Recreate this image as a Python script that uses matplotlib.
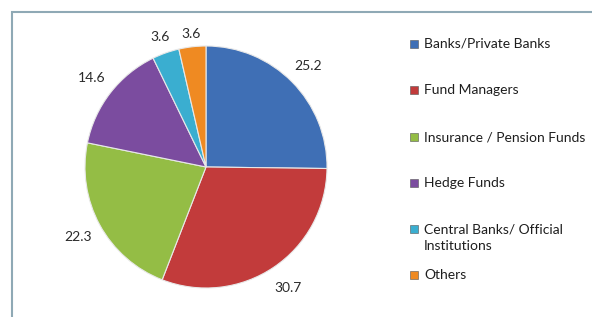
import matplotlib.pyplot as plt
import numpy as np
from matplotlib.patches import Rectangle

categories = ["Banks/Private Banks", "Fund Managers", "Insurance / Pension Funds",
              "Hedge Funds", "Central Banks/ Official\nInstitutions", "Others"]
shares = [25.2, 30.7, 22.3, 14.6, 3.6, 3.6]
colors = ["#3f6fb5", "#c23b3b", "#94bd45", "#7b4c9f", "#3aaed0", "#ef8a22"]
label_dist = [1.19, 1.21, 1.2, 1.2, 1.14, 1.11]
legend_y = [44, 90, 137, 183, 238, 275]

plt.rcParams['font.family'] = ['Lato', 'DejaVu Sans']

W, H = 592, 317
fig = plt.figure(figsize=(W / 100, H / 100), dpi=100)

# frame around the chart area (runs off right and bottom)
fig.patches.append(Rectangle((12 / W, -0.1), 1.2, (H - 12) / H + 0.1,
                             transform=fig.transFigure, fill=False,
                             edgecolor="#8fa9b5", linewidth=1.5))

cx, cy, r = 206, 167, 121
ax = fig.add_axes([(cx - r) / W, (H - cy - r) / H, 2 * r / W, 2 * r / H])
wedges, _ = ax.pie(shares, colors=colors, startangle=90, counterclock=False,
                   wedgeprops=dict(edgecolor="#e8e8e8", linewidth=0.8))
ax.set_xlim(-1, 1)
ax.set_ylim(-1, 1)
ax.set_aspect("equal")
ax.axis("off")

for w, v, d in zip(wedges, shares, label_dist):
    ang = np.deg2rad((w.theta1 + w.theta2) / 2)
    ax.text(d * np.cos(ang), d * np.sin(ang), f"{v}", ha="center", va="center",
            fontsize=10, color="#2a2a2a", clip_on=False)

for name, c, y in zip(categories, colors, legend_y):
    top_line_y = y if "\n" not in name else y - 9.5
    fig.patches.append(Rectangle((410 / W, (H - top_line_y - 4) / H), 8 / W, 8 / H,
                                 transform=fig.transFigure, facecolor=c,
                                 edgecolor="#555555", linewidth=0.4))
    fig.text(424 / W, (H - y) / H, name, ha="left", va="center", fontsize=10,
             color="#1e1e1e", linespacing=1.45)

fig.savefig("out.png", dpi=100)
